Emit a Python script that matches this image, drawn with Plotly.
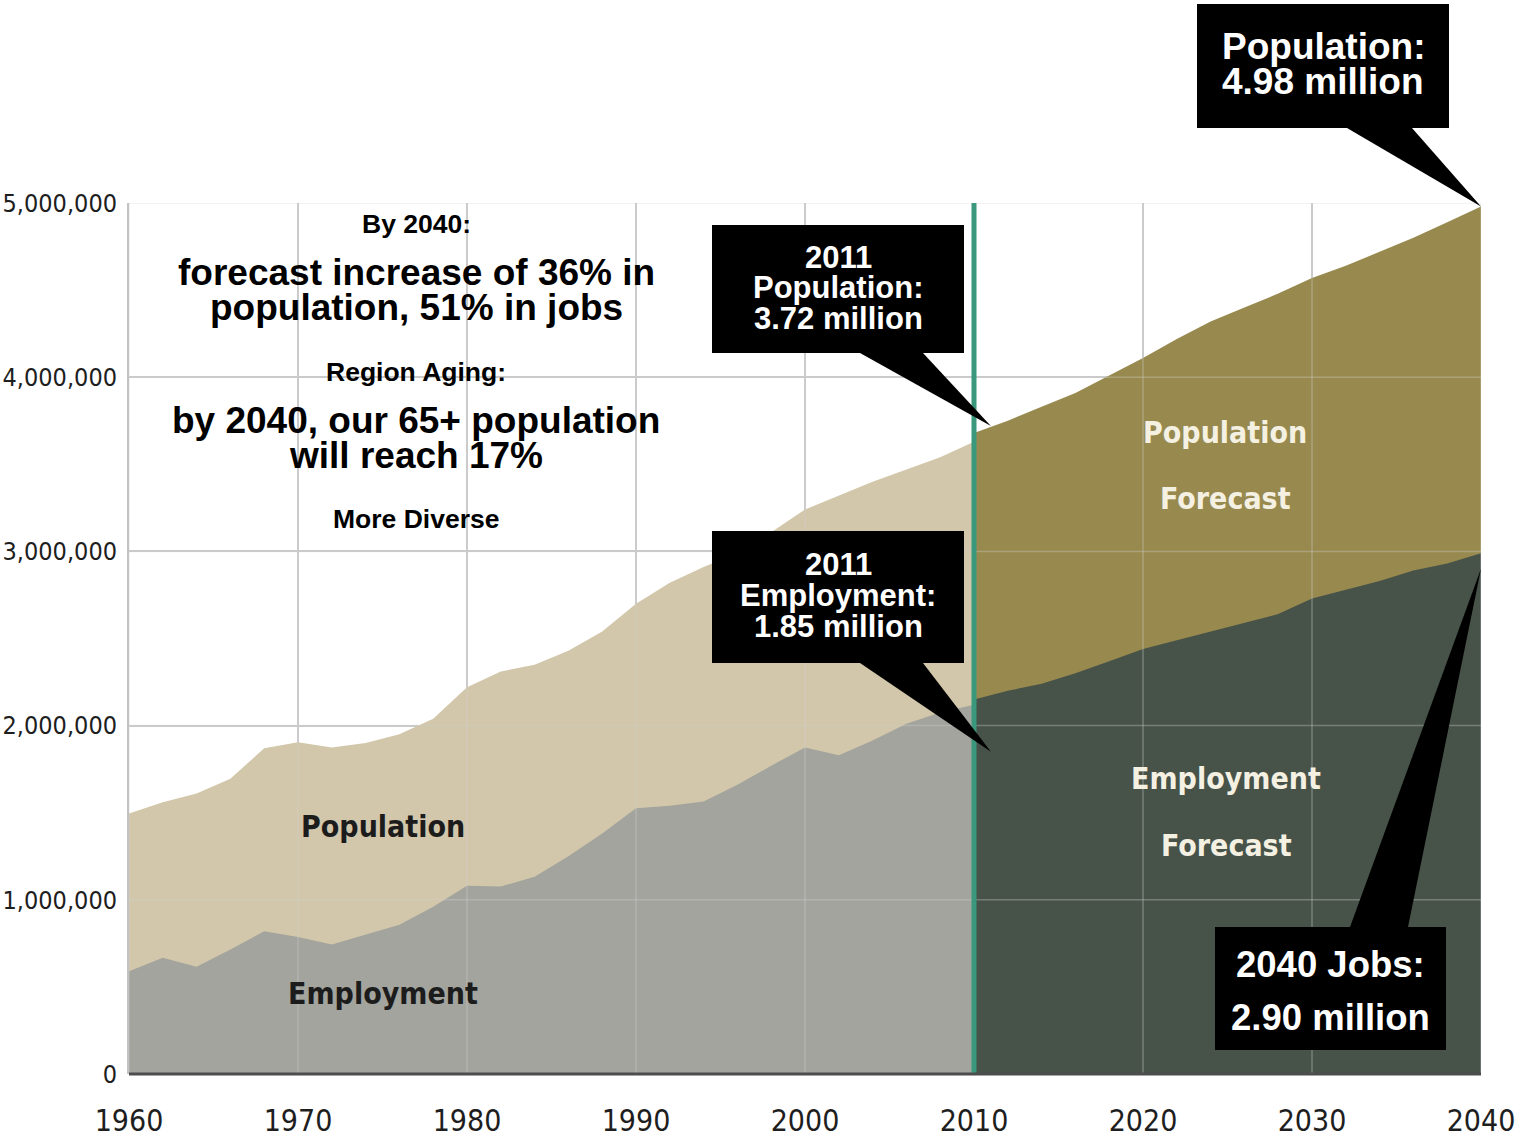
import plotly.graph_objects as go

# ---------------- data ----------------
years_hist = [1960, 1962, 1964, 1966, 1968, 1970, 1972, 1974, 1976, 1978, 1980,
              1982, 1984, 1986, 1988, 1990, 1992, 1994, 1996, 1998, 2000,
              2002, 2004, 2006, 2008, 2010]
population_hist = [1495000, 1560000, 1610000, 1695000, 1870000, 1905000, 1875000,
                   1900000, 1950000, 2040000, 2220000, 2310000, 2350000, 2430000,
                   2540000, 2700000, 2820000, 2910000, 2990000, 3110000, 3240000,
                   3320000, 3400000, 3470000, 3540000, 3630000]
employment_hist = [590000, 667000, 615000, 714000, 820000, 787000, 743000, 800000,
                   857000, 960000, 1080000, 1076000, 1133000, 1250000, 1380000,
                   1525000, 1540000, 1565000, 1660000, 1770000, 1875000, 1830000,
                   1915000, 2010000, 2075000, 2120000]

years_fc = [2010, 2012, 2014, 2016, 2018, 2020, 2022, 2024, 2026, 2028, 2030,
            2032, 2034, 2036, 2038, 2040]
population_fc = [3680000, 3750000, 3830000, 3910000, 4010000, 4110000, 4220000,
                 4320000, 4400000, 4480000, 4570000, 4640000, 4720000, 4800000,
                 4890000, 4980000]
employment_fc = [2150000, 2200000, 2240000, 2300000, 2370000, 2440000, 2490000,
                 2540000, 2590000, 2640000, 2730000, 2780000, 2830000, 2890000,
                 2930000, 2990000]

x_ticks = [1960, 1970, 1980, 1990, 2000, 2010, 2020, 2030, 2040]
y_ticks = [0, 1000000, 2000000, 3000000, 4000000, 5000000]
y_tick_text = ["0", "1,000,000", "2,000,000", "3,000,000", "4,000,000", "5,000,000"]
forecast_start = 2010

callouts = [
    # (lines, tip_year, tip_value)
    (["2011", "Population:", "3.72 million"], 2011, 3720000),
    (["2011", "Employment:", "1.85 million"], 2011, 1850000),
    (["Population:", "4.98 million"], 2040, 4980000),
    (["2040 Jobs:", "2.90 million"], 2040, 2900000),
]

# ---------------- layout geometry ----------------
W, H = 1520, 1141
PL, PR, PT, PB = 129, 1481, 203, 1074
X0, X1 = 1960, 2040
Y0, Y1 = 0, 5000000


def px(x):
    return (x - PL) / (PR - PL)


def py(y):
    return (PB - y) / (PB - PT)


def dx(year):
    return (year - X0) / (X1 - X0)


def dy(v):
    return (v - Y0) / (Y1 - Y0)


C_POP = "#d2c7aa"
C_EMP = "#a3a49d"
C_POP_FC = "#988a4e"
C_EMP_FC = "#475349"
COND = "Liberation Sans Narrow, DejaVu Sans Condensed, Arial Narrow, sans-serif"
BOLD = "Liberation Sans, Arial, sans-serif"

fig = go.Figure()
fig.add_trace(go.Scatter(x=years_hist, y=population_hist, mode="lines", line=dict(width=0),
                         fill="tozeroy", fillcolor=C_POP, name="Population", hoverinfo="x+y"))
fig.add_trace(go.Scatter(x=years_hist, y=employment_hist, mode="lines", line=dict(width=0),
                         fill="tozeroy", fillcolor=C_EMP, name="Employment", hoverinfo="x+y"))
fig.add_trace(go.Scatter(x=years_fc, y=population_fc, mode="lines", line=dict(width=0),
                         fill="tozeroy", fillcolor=C_POP_FC, name="Population Forecast", hoverinfo="x+y"))
fig.add_trace(go.Scatter(x=years_fc, y=employment_fc, mode="lines", line=dict(width=0),
                         fill="tozeroy", fillcolor=C_EMP_FC, name="Employment Forecast", hoverinfo="x+y"))

shapes = []
# grid lines drawn over the fills (semi-transparent)
for xv in x_ticks:
    shapes.append(dict(type="line", xref="x", yref="y", x0=xv, x1=xv, y0=Y0, y1=Y1,
                       line=dict(color="rgba(205,205,205,0.35)", width=1.5), layer="above"))
for yv in y_ticks[1:]:
    shapes.append(dict(type="line", xref="x", yref="y", x0=X0, x1=X1, y0=yv, y1=yv,
                       line=dict(color="rgba(205,205,205,0.35)", width=1.5), layer="above"))
# forecast divider
shapes.append(dict(type="line", xref="x", yref="y", x0=forecast_start, x1=forecast_start,
                   y0=Y0, y1=Y1, line=dict(color="#3a987d", width=5), layer="above"))
# bottom axis line
shapes.append(dict(type="line", xref="paper", yref="paper", x0=0, x1=1, y0=0, y1=0,
                   line=dict(color="#4d4d4d", width=3), layer="above"))

annotations = []

# callout boxes (pixel geometry of the boxes, tips at data values)
boxes = [
    dict(x0=712, x1=964, y0=225, y1=353, b0=860, b1=923, base="bottom", size=31, lh=30.5, ty=257),
    dict(x0=712, x1=964, y0=531, y1=663, b0=860, b1=923, base="bottom", size=31, lh=31, ty=564),
    dict(x0=1197, x1=1449, y0=4, y1=128, b0=1347, b1=1412, base="bottom", size=37, lh=35, ty=46),
    dict(x0=1215, x1=1446, y0=927, y1=1050, b0=1350, b1=1408, base="top", size=36.5, lh=53, ty=964),
]
for (lines, ty_, tv), b in zip(callouts, boxes):
    tx, tyy = dx(ty_), dy(tv)
    bx0, bx1 = px(b["x0"]), px(b["x1"])
    by_top, by_bot = py(b["y0"]), py(b["y1"])
    shapes.append(dict(type="rect", xref="paper", yref="paper", x0=bx0, x1=bx1,
                       y0=by_bot, y1=by_top, fillcolor="black", line=dict(width=0), layer="above"))
    base_y = by_bot if b["base"] == "bottom" else by_top
    path = f"M {px(b['b0'])} {base_y} L {px(b['b1'])} {base_y} L {tx} {tyy} Z"
    shapes.append(dict(type="path", xref="paper", yref="paper", path=path,
                       fillcolor="black", line=dict(width=0), layer="above"))
    cx = (b["x0"] + b["x1"]) / 2
    for i, ln in enumerate(lines):
        annotations.append(dict(xref="paper", yref="paper", x=px(cx), y=py(b["ty"] + i * b["lh"]),
                                text=f"<b>{ln}</b>", showarrow=False, xanchor="center",
                                yanchor="middle", borderpad=0,
                                font=dict(family=BOLD, size=b["size"], color="white")))

# text block top-left
info = [
    ("By 2040:", 26.5, 224),
    ("forecast increase of 36% in", 37, 272),
    ("population, 51% in jobs", 37, 307),
    ("Region Aging:", 26.5, 372),
    ("by 2040, our 65+ population", 37, 420),
    ("will reach 17%", 37, 455),
    ("More Diverse", 26.5, 519),
]
for t, s, yy in info:
    annotations.append(dict(xref="paper", yref="paper", x=px(416), y=py(yy), text=f"<b>{t}</b>",
                            showarrow=False, xanchor="center", yanchor="middle", borderpad=0,
                            font=dict(family=BOLD, size=s, color="black")))

# area labels
area_labels = [
    ("Population", 383, 826, "#1c1c1c"),
    ("Employment", 383, 993, "#1c1c1c"),
    ("Population", 1225, 432, "#f4f0e2"),
    ("Forecast", 1225, 498, "#f4f0e2"),
    ("Employment", 1226, 778, "#f4f0e2"),
    ("Forecast", 1226, 845, "#f4f0e2"),
]
for t, xx, yy, c in area_labels:
    annotations.append(dict(xref="paper", yref="paper", x=px(xx), y=py(yy), text=t,
                            showarrow=False, xanchor="center", yanchor="middle",
                            font=dict(family=COND, size=30, color=c, weight=600)))

fig.update_layout(
    width=W, height=H, autosize=False,
    margin=dict(l=PL, r=W - PR, t=PT, b=H - PB, pad=0, autoexpand=False),
    paper_bgcolor="white", plot_bgcolor="white",
    showlegend=False,
    shapes=shapes, annotations=annotations,
    xaxis=dict(range=[X0, X1], tickvals=x_ticks, ticktext=[str(v) for v in x_ticks],
               showgrid=True, gridcolor="#c9c9c9", gridwidth=1.5, zeroline=False,
               showline=False, ticks="", ticklabelstandoff=26, automargin=False,
               ticklabeloverflow="allow",
               tickfont=dict(family=COND, size=30, color="#1e1e1e")),
    yaxis=dict(range=[Y0, Y1], tickvals=y_ticks, ticktext=y_tick_text,
               showgrid=True, gridcolor="#c9c9c9", gridwidth=1.5, zeroline=False,
               showline=True, linecolor="#c2c2c2", linewidth=2, ticks="",
               ticklabelstandoff=5, automargin=False, ticklabeloverflow="allow",
               tickfont=dict(family=COND, size=25, color="#1e1e1e")),
)

fig.write_html("out.html")
